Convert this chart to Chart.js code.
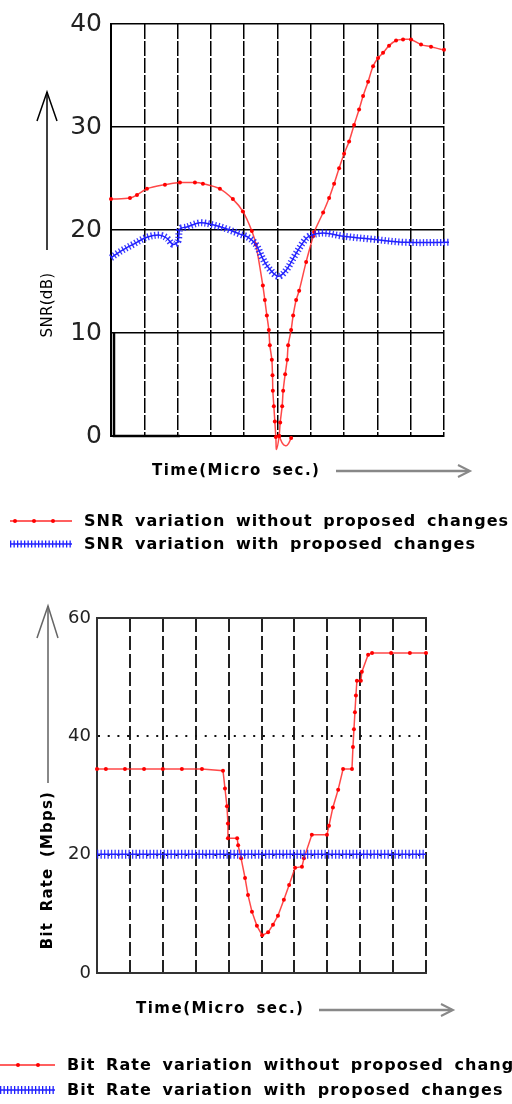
<!DOCTYPE html>
<html>
<head>
<meta charset="utf-8">
<script src="https://cdn.jsdelivr.net/npm/chart.js@4.4.1/dist/chart.umd.min.js"></script>
<style>
    body { margin: 0; width: 512px; height: 1104px; overflow: hidden; background: #fff; position: relative; font-family: "DejaVu Sans", sans-serif; }
    .box { position: absolute; left: 0; width: 512px; }
    .txt { position: absolute; white-space: nowrap; color: #000; font-size: 16px; line-height: 20px; letter-spacing: 1.05px; word-spacing: 4px; font-weight: bold; }
    .title { font-size: 15px; letter-spacing: 1.5px; }
    .rot { transform: translate(-50%, -50%) rotate(-90deg); }
    svg { position: absolute; left: 0; top: 0; }
</style>
</head>
<body>

<div class="box" style="top:0; height:460px;"><canvas id="snrChart"></canvas></div>
<div class="box" style="top:590px; height:400px;"><canvas id="rateChart"></canvas></div>

<svg width="512" height="1104">
    <!-- axis arrows -->
    <line x1="47" y1="92" x2="47" y2="250" stroke="#000" stroke-width="1.5"/>
    <polyline points="37,121 47,92 57,121" fill="none" stroke="#000" stroke-width="1.5"/>
    <line x1="336" y1="471" x2="469" y2="471" stroke="#888" stroke-width="2.5"/>
    <polyline points="458,465 470,471 458,477" fill="none" stroke="#888" stroke-width="2"/>
    <line x1="48" y1="606" x2="48" y2="783" stroke="#888" stroke-width="2"/>
    <polyline points="37,638 48,606 58,638" fill="none" stroke="#666" stroke-width="1.5"/>
    <line x1="319" y1="1010" x2="452" y2="1010" stroke="#888" stroke-width="2.5"/>
    <polyline points="441,1004 453,1010 441,1016" fill="none" stroke="#888" stroke-width="2"/>

    <!-- legend samples -->
    <line x1="10" y1="521" x2="72" y2="521" stroke="#ff2a2a" stroke-width="1.5"/>
    <circle cx="15" cy="521" r="2" fill="#f00"/><circle cx="34" cy="521" r="2" fill="#f00"/><circle cx="53" cy="521" r="2" fill="#f00"/>
    <line x1="10" y1="544" x2="72" y2="544" stroke="#2020ff" stroke-width="1.5"/>
    <line x1="10" y1="544" x2="72" y2="544" stroke="#2020ff" stroke-width="7" stroke-dasharray="1.3 2.2"/>

    <line x1="0" y1="1065" x2="55" y2="1065" stroke="#ff2a2a" stroke-width="1.5"/>
    <circle cx="18" cy="1065" r="2" fill="#f00"/><circle cx="38" cy="1065" r="2" fill="#f00"/>
    <line x1="0" y1="1090" x2="55" y2="1090" stroke="#2020ff" stroke-width="1.5"/>
    <line x1="0" y1="1090" x2="55" y2="1090" stroke="#2020ff" stroke-width="8" stroke-dasharray="1.3 2.2"/>
</svg>

<div class="txt title rot" style="left:47px; top:305px; letter-spacing:0.3px; font-weight:normal;">SNR(dB)</div>
<div class="txt title" style="left:152px; top:460px;">Time(Micro sec.)</div>
<div class="txt" style="left:84px; top:511px;">SNR variation without proposed changes</div>
<div class="txt" style="left:84px; top:534px;">SNR variation with proposed changes</div>

<div class="txt title rot" style="left:47px; top:870px; letter-spacing:1.2px;">Bit Rate (Mbps)</div>
<div class="txt title" style="left:136px; top:998px;">Time(Micro sec.)</div>
<div class="txt" style="left:67px; top:1055px;">Bit Rate variation without proposed changes</div>
<div class="txt" style="left:67px; top:1080px;">Bit Rate variation with proposed changes</div>

<script>
// SNR chart (time in grid units 0..10)
const snrTicks = [0, 10, 20, 30, 40];
const snrRedT = [0, 0.57, 0.78, 1.08, 1.62, 2.07, 2.52, 2.76, 3.27, 3.66, 3.96, 4.23, 4.35, 4.56, 4.62, 4.68, 4.74, 4.77, 4.83, 4.85, 4.86, 4.89, 4.92, 4.95, 4.97,
    5.05, 5.08, 5.14, 5.17, 5.23, 5.29, 5.32, 5.41, 5.47, 5.56, 5.65, 5.86, 6.07, 6.10, 6.37, 6.55, 6.70, 6.85, 7.00, 7.15, 7.30, 7.45, 7.57, 7.72, 7.87,
    8.02, 8.17, 8.35, 8.56, 8.77, 9.01, 9.31, 9.61, 10.0, 10.27];
const snrRedV = [23.0, 23.1, 23.4, 24.0, 24.4, 24.6, 24.6, 24.5, 24.0, 23.0, 21.8, 19.9, 18.6, 14.6, 13.2, 11.7, 10.3, 8.8, 7.4, 5.9, 4.4, 2.9, 1.4, -0.1, -1.3,
    0.0, 1.3, 2.9, 4.4, 6.0, 7.4, 8.8, 10.3, 11.7, 13.2, 14.1, 16.9, 19.4, 19.8, 21.7, 23.1, 24.5, 26.0, 27.4, 28.6, 30.2, 31.7, 33.0, 34.4, 35.9,
    36.7, 37.2, 37.9, 38.4, 38.5, 38.5, 38.0, 37.8, 37.5, 37.8];
const snrHookT = [5.05, 5.17, 5.29, 5.41];
const snrHookV = [0.0, -0.8, -0.9, -0.2];
const snrBlueT = [0, 0.27, 0.66, 1.08, 1.47, 1.68, 1.86, 2.01, 2.07, 2.28, 2.67, 3.06, 3.48, 3.87, 4.11, 4.35, 4.56, 4.74, 5.02, 5.26, 5.50, 5.77, 5.95, 6.37, 6.97, 7.87, 8.86, 10.15];
const snrBlueV = [17.3, 17.9, 18.6, 19.3, 19.5, 19.2, 18.6, 18.9, 20.1, 20.3, 20.7, 20.5, 20.1, 19.6, 19.3, 18.6, 17.2, 16.3, 15.5, 16.1, 17.4, 18.8, 19.4, 19.7, 19.4, 19.1, 18.8, 18.8];
const snrBlackT = [0.09, 0.09, 2.07];
const snrBlackV = [10, 0, 0];

// Bit rate chart
const rateTicks = [0, 20, 40, 60];
const rateRedT = [0, 0.27, 0.85, 1.43, 2.0, 2.58, 3.19, 3.83, 3.89, 3.95, 3.98, 3.98, 4.26, 4.29, 4.38, 4.50, 4.59, 4.71, 4.86, 5.02, 5.20, 5.35, 5.50, 5.68, 5.84, 6.02,
    6.23, 6.29, 6.53, 6.99, 7.05, 7.17, 7.33, 7.48, 7.75, 7.78, 7.81, 7.84, 7.87, 7.90, 8.02, 8.05, 8.24, 8.36, 8.94, 9.51, 10.0];
const rateRedV = [34.5, 34.5, 34.5, 34.5, 34.5, 34.5, 34.5, 34.2, 31.2, 28.2, 25.3, 22.8, 22.8, 21.6, 19.4, 16.1, 13.2, 10.4, 8.0, 6.4, 6.9, 8.2, 9.7, 12.4, 14.9, 17.8,
    18.0, 19.4, 23.4, 23.4, 24.9, 28.0, 31.0, 34.5, 34.5, 38.2, 41.2, 44.1, 46.9, 49.4, 49.4, 50.9, 53.8, 54.1, 54.1, 54.1, 54.1];
const rateBlueT = [0, 10];
const rateBlueV = [20.1, 20.1];
const rateBlackT = [7.90, 8.02];
const rateBlackV = [49.4, 49.4];

const pts = (t, v) => t.map((x, i) => ({ x: x, y: v[i] }));

const RED = 'rgba(255, 40, 40, 0.85)';
const BLUE = '#2020ff';

function redSet(data, tension) {
    return {
        data: data,
        borderColor: RED,
        borderWidth: 1.5,
        pointRadius: 2,
        pointBackgroundColor: '#f00',
        pointBorderWidth: 0,
        tension: tension,
        clip: false
    };
}

function blueSets(data, hatch, tension) {
    return [
        { data: data, borderColor: BLUE, borderWidth: 1.5, pointRadius: 0, tension: tension, clip: false },
        { data: data, borderColor: 'rgba(32, 32, 255, 0.9)', borderWidth: hatch, borderDash: [1.3, 2.2], pointRadius: 0, tension: tension, clip: false }
    ];
}

function blackSet(data, w) {
    return { data: data, borderColor: '#000', borderWidth: w, pointRadius: 0, tension: 0, clip: false };
}

Chart.defaults.font.family = '"DejaVu Sans", sans-serif';
Chart.defaults.animation = false;

new Chart(document.getElementById('snrChart'), {
    type: 'line',
    data: {
        datasets: [
            blackSet(pts(snrBlackT, snrBlackV), 2.5),
            ...blueSets(pts(snrBlueT, snrBlueV), 7, 0.35),
            redSet(pts(snrRedT, snrRedV), 0.3),
            redSet(pts(snrHookT, snrHookV), 0.4)
        ]
    },
    options: {
        responsive: true,
        maintainAspectRatio: false,
        layout: { padding: { top: 20, right: 68, left: 0, bottom: 0 } },
        plugins: { legend: { display: false }, tooltip: { enabled: false } },
        scales: {
            x: {
                type: 'linear', min: 0, max: 10,
                ticks: { display: false, stepSize: 1 },
                grid: { color: '#000', lineWidth: 1.5, drawTicks: false },
                border: { color: '#000', width: 2, dash: [15, 2] },
                afterFit: (scale) => { scale.height = 19; }
            },
            y: {
                min: 0, max: 40,
                afterBuildTicks: (scale) => { scale.ticks = snrTicks.map(v => ({ value: v })); },
                ticks: { color: '#222', font: { size: 25 }, padding: 9 },
                grid: { color: '#000', lineWidth: 1.4, drawTicks: false },
                border: { color: '#000', width: 2 },
                afterFit: (scale) => { scale.width = 111; }
            }
        }
    }
});

new Chart(document.getElementById('rateChart'), {
    type: 'line',
    data: {
        datasets: [
            ...blueSets(pts(rateBlueT, rateBlueV), 9, 0),
            redSet(pts(rateRedT, rateRedV), 0),
            blackSet(pts(rateBlackT, rateBlackV), 1.5)
        ]
    },
    options: {
        responsive: true,
        maintainAspectRatio: false,
        layout: { padding: { top: 28, right: 86, left: 0, bottom: 0 } },
        plugins: { legend: { display: false }, tooltip: { enabled: false } },
        scales: {
            x: {
                type: 'linear', min: 0, max: 10,
                ticks: { display: false, stepSize: 1 },
                grid: { color: '#222', lineWidth: 2, drawTicks: false },
                border: { color: '#333', width: 2, dash: [14, 4] },
                afterFit: (scale) => { scale.height = 14; }
            },
            x2: {
                type: 'linear', position: 'top', min: 0, max: 10,
                ticks: { display: false },
                grid: { display: false },
                border: { color: '#333', width: 2 },
                afterFit: (scale) => { scale.height = 0; }
            },
            y: {
                min: 0, max: 60,
                afterBuildTicks: (scale) => { scale.ticks = rateTicks.map(v => ({ value: v })); },
                ticks: { color: '#222', font: { size: 18 }, padding: 6 },
                grid: { color: '#111', lineWidth: 2, drawTicks: false },
                border: { color: '#333', width: 2, dash: [2, 7.7] },
                afterFit: (scale) => { scale.width = 97; }
            }
        }
    }
});
</script>
</body>
</html>
